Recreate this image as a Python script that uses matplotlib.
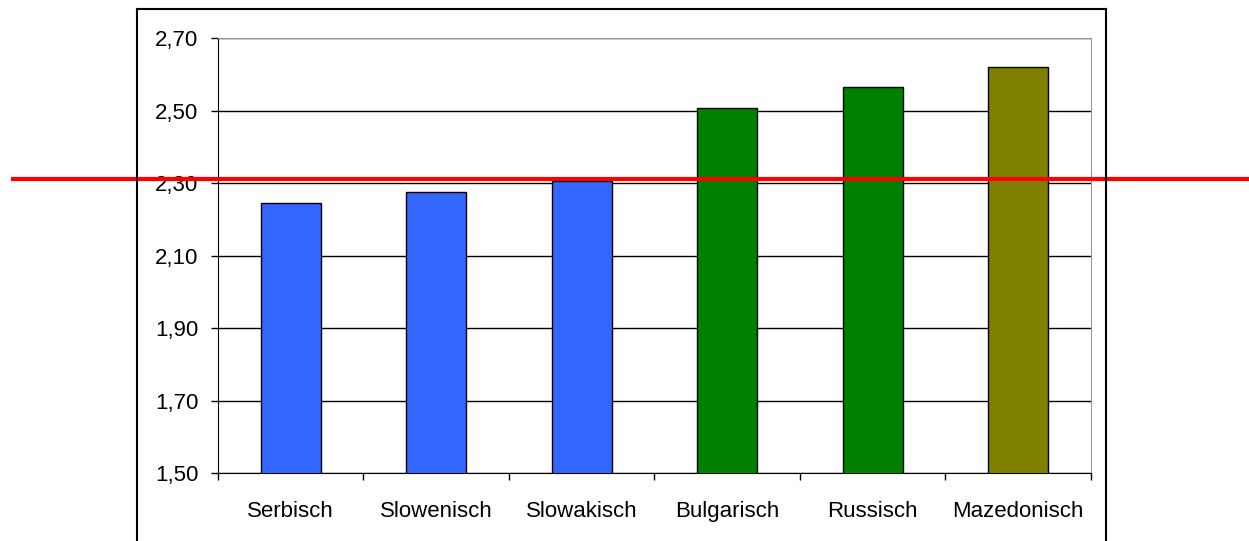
import matplotlib.pyplot as plt
from matplotlib.lines import Line2D
from matplotlib.ticker import FixedLocator

plt.rcParams['font.family'] = ['Liberation Sans', 'DejaVu Sans']

# Data
languages = ['Serbisch', 'Slowenisch', 'Slowakisch', 'Bulgarisch', 'Russisch', 'Mazedonisch']
values = [2.245, 2.275, 2.305, 2.507, 2.565, 2.62]
colors = ['#3366FF', '#3366FF', '#3366FF', '#008000', '#008000', '#808000']
yticks = [1.50, 1.70, 1.90, 2.10, 2.30, 2.50, 2.70]
ref_value = 2.312

fig = plt.figure(figsize=(12.49, 5.41), dpi=100)
ax = fig.add_axes([0.1745, 0.1257, 0.699, 0.804])

x = list(range(len(languages)))
ax.bar(x, values, width=0.41, color=colors, edgecolor='black', linewidth=1, zorder=3)

ax.set_ylim(1.50, 2.70)
ax.set_xlim(-0.5, len(languages) - 0.5)
ax.set_yticks(yticks)
ax.set_yticklabels([f'{v:.2f}'.replace('.', ',') for v in yticks])
ax.yaxis.grid(True, color='black', linewidth=1, zorder=0)

# category labels centered, ticks at the category boundaries
ax.set_xticks(x)
ax.set_xticklabels(languages)
ax.xaxis.set_minor_locator(FixedLocator([i - 0.5 for i in range(len(languages) + 1)]))
ax.tick_params(axis='x', which='major', length=0, pad=20, labelsize=16)
ax.tick_params(axis='x', which='minor', length=5, width=1, direction='out')
ax.tick_params(axis='y', length=5, width=1, direction='out', pad=9, labelsize=16)

ax.spines['top'].set_color('#999999')
ax.spines['right'].set_color('#999999')
ax.spines['left'].set_color('black')
ax.spines['bottom'].set_color('black')

# outer chart frame
for xs, ys in [([0.1097, 0.8855], [0.9834, 0.9834]),
               ([0.1097, 0.1097], [0.9834, 0.0]),
               ([0.8855, 0.8855], [0.9834, 0.0])]:
    fig.add_artist(Line2D(xs, ys, color='black', linewidth=1.5))

# red reference line across the whole figure
ax.axhline(ref_value, xmin=(13 - 218) / 873, xmax=(1249 - 218) / 873,
           color='red', linewidth=3, clip_on=False, zorder=5)

plt.savefig('out.png')
